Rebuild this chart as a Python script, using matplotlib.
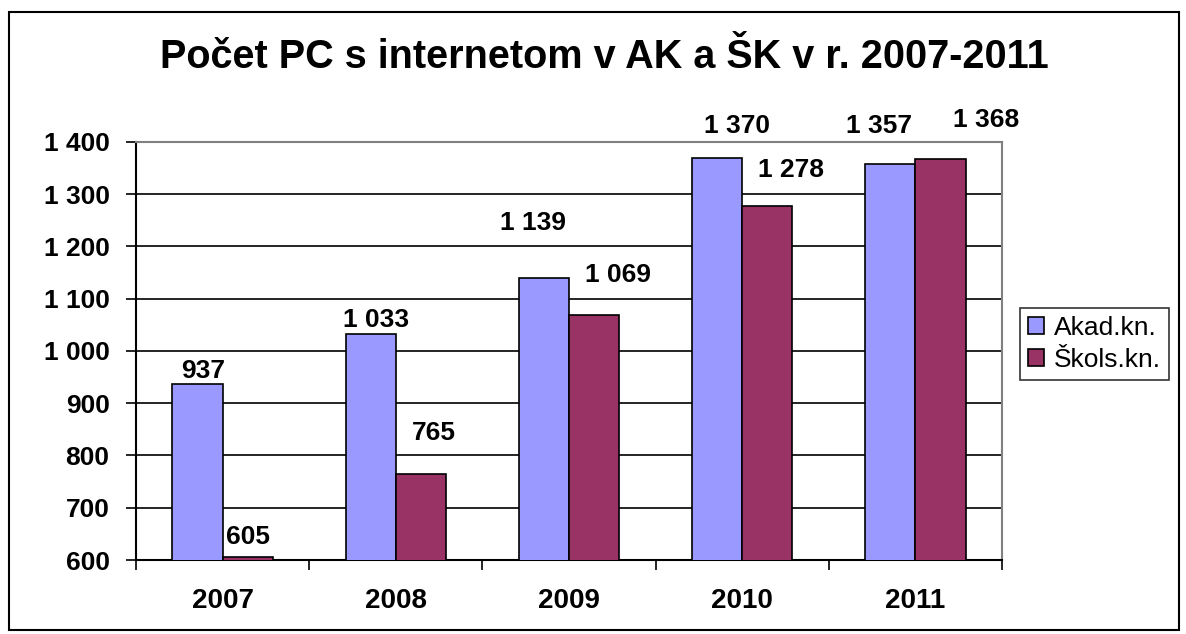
import matplotlib.pyplot as plt
import numpy as np
from matplotlib.patches import Rectangle

plt.rcParams['font.family'] = ['Liberation Sans', 'DejaVu Sans']

roky = ['2007', '2008', '2009', '2010', '2011']
akad = [937, 1033, 1139, 1370, 1357]
skols = [605, 765, 1069, 1278, 1368]
# posun popiskov (body) - ako v povodnom grafe
posun_akad = [(4, 1), (4, 1), (-8, 31), (14, 14), (-8, 19)]
posun_skols = [(0, 6), (9, 21), (17, 20), (17, 17), (33, 19)]


def cislo(v):
    return '{:,}'.format(int(v)).replace(',', ' ')


fig = plt.figure(figsize=(11.86, 6.34), dpi=100)
fig.patches.append(Rectangle((9 / 1186, 4 / 634), 1170 / 1186, 618 / 634,
                             transform=fig.transFigure, fill=False,
                             edgecolor='black', linewidth=1.5))
ax = fig.add_axes([136 / 1186, 74 / 634, 866 / 1186, 418 / 634])

x = np.arange(len(roky))
w = 0.29
b1 = ax.bar(x - w / 2, akad, w, color='#9999FF', edgecolor='black',
            linewidth=1.2, label='Akad.kn.', zorder=3)
b2 = ax.bar(x + w / 2, skols, w, color='#993366', edgecolor='black',
            linewidth=1.2, label='Škols.kn.', zorder=3)

for i in range(len(roky)):
    ax.annotate(cislo(akad[i]), (x[i] - w / 2, akad[i]), xytext=posun_akad[i],
                textcoords='offset points', ha='center', va='bottom',
                fontsize=19, fontweight='bold')
    ax.annotate(cislo(skols[i]), (x[i] + w / 2, skols[i]), xytext=posun_skols[i],
                textcoords='offset points', ha='center', va='bottom',
                fontsize=19, fontweight='bold')

ax.set_xlim(-0.5, len(roky) - 0.5)
ax.set_ylim(600, 1400)
ax.set_yticks(range(600, 1401, 100))
ax.set_yticklabels([cislo(v) for v in range(600, 1401, 100)],
                   fontsize=19, fontweight='bold')
ax.set_xticks(x)
ax.set_xticklabels(roky, fontsize=20, fontweight='bold')
ax.set_xticks(np.arange(-0.5, len(roky), 1), minor=True)
ax.tick_params(axis='x', which='major', length=0, pad=20)
ax.tick_params(axis='x', which='minor', length=7, width=1.2, direction='out')
ax.tick_params(axis='y', length=7, width=1.2, direction='out', pad=12)
ax.grid(axis='y', color='black', linewidth=1.2, zorder=0)
ax.set_axisbelow(True)
for s in ['top', 'right']:
    ax.spines[s].set_color('gray')
    ax.spines[s].set_linewidth(1.5)
for s in ['left', 'bottom']:
    ax.spines[s].set_linewidth(1.5)

fig.text(0.51, 1 - 57 / 634, 'Počet PC s internetom v AK a ŠK v r. 2007-2011',
         ha='center', va='center', fontsize=28.5, fontweight='bold')

leg = fig.legend(handles=[b1, b2], loc='upper left',
                 bbox_to_anchor=(1020 / 1186, 1 - 308 / 634),
                 fontsize=19, frameon=True, fancybox=False,
                 handlelength=0.6, handleheight=0.6, handletextpad=0.4,
                 borderpad=0.3, labelspacing=0.3, borderaxespad=0)
leg.get_frame().set_edgecolor('black')
leg.get_frame().set_linewidth(1.2)

fig.savefig('out.png', dpi=100)
